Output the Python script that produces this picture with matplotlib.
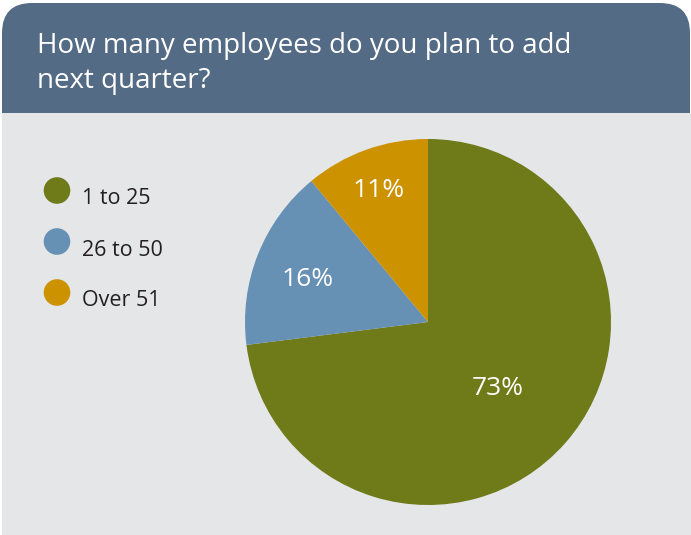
import matplotlib.pyplot as plt
from matplotlib.patches import FancyBboxPatch, Rectangle, Circle
import numpy as np

plt.rcParams['font.family'] = ['Open Sans', 'DejaVu Sans']

# Дані опитування
title = "How many employees do you plan to add\nnext quarter?"
labels = ['1 to 25', '26 to 50', 'Over 51']
values = [73, 16, 11]
colors = ['#6f7a19', '#6790b5', '#cc9200']

# Кольори панелі
header_color = '#546b85'
body_color = '#e5e6e8'

W, H = 691, 535
fig = plt.figure(figsize=(W / 100, H / 100), dpi=100)
ax = fig.add_axes([0, 0, 1, 1])

# Заголовок із заокругленими верхніми кутами
header = FancyBboxPatch((2, H - 113 - 40), 688, 113 - 3 + 40,
                        boxstyle="round,pad=0,rounding_size=30",
                        facecolor=header_color, edgecolor='none', zorder=1)
ax.add_patch(header)
ax.add_patch(Rectangle((2, -10), 689, H - 113 + 10, facecolor=body_color,
                       edgecolor='none', zorder=2))

# baseline для багаторядкового тексту - це базова лінія останнього рядка
ax.text(37, H - 88, title, color='white', fontsize=20, ha='left',
        va='baseline', linespacing=1.32, zorder=3)

# Кругова діаграма
cx, cy, r = 428, H - 322, 183
wedges, _ = ax.pie(values, colors=colors, startangle=90, counterclock=False,
                   center=(cx, cy), radius=r,
                   wedgeprops=dict(linewidth=0))
for w in wedges:
    w.set_zorder(3)

# Підписи відсотків у секторах
label_dist = [0.51, 0.71, 0.79]
for w, v, d in zip(wedges, values, label_dist):
    ang = np.deg2rad((w.theta1 + w.theta2) / 2)
    ax.text(cx + d * r * np.cos(ang), cy + d * r * np.sin(ang) - 5, f'{v}%',
            color='white', fontsize=19, ha='center', va='center', zorder=4)

# Легенда
for i, (lab, c) in enumerate(zip(labels, colors)):
    y = H - (190.5 + i * 51)
    ax.add_patch(Circle((57, y), 13.3, facecolor=c, edgecolor='none', zorder=4))
    ax.text(82, y - 14, lab, color='#231f20', fontsize=15.5, ha='left',
            va='baseline', zorder=4)

ax.set_xlim(0, W)
ax.set_ylim(0, H)
ax.set_aspect('equal')
ax.axis('off')

fig.savefig('out.png', dpi=100, facecolor='white')
